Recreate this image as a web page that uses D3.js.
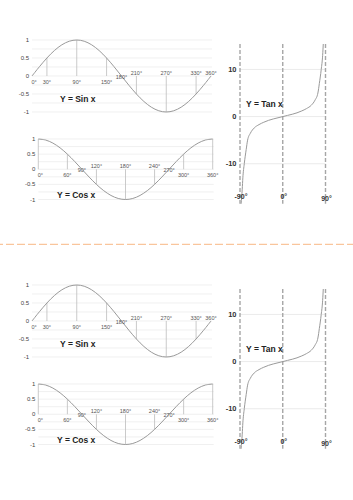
<!DOCTYPE html>
<html>
<head>
<meta charset="utf-8">
<script src="https://cdn.jsdelivr.net/npm/d3@7"></script>
<style>
  body { margin: 0; background: #fff; }
  svg { display: block; font-family: "Liberation Sans Narrow", "Liberation Sans", Arial, sans-serif; }
</style>
</head>
<body>
<svg id="chart"></svg>
<script>
// Constant Values
const width = 353;
const height = 500;

// Data
const angles = [0, 15, 30, 45, 60, 75, 90, 105, 120, 135, 150, 165, 180,
                195, 210, 225, 240, 255, 270, 285, 300, 315, 330, 345, 360];
const sinValues = [0, 0.259, 0.5, 0.707, 0.866, 0.966, 1, 0.966, 0.866, 0.707, 0.5, 0.259, 0,
                   -0.259, -0.5, -0.707, -0.866, -0.966, -1, -0.966, -0.866, -0.707, -0.5, -0.259, 0];
const cosValues = [1, 0.966, 0.866, 0.707, 0.5, 0.259, 0, -0.259, -0.5, -0.707, -0.866, -0.966, -1,
                   -0.966, -0.866, -0.707, -0.5, -0.259, 0, 0.259, 0.5, 0.707, 0.866, 0.966, 1];
const sinLabelAngles = [0, 30, 90, 150, 180, 210, 270, 330, 360];
const cosLabelAngles = [0, 60, 90, 120, 180, 240, 270, 300, 360];
const waveTicks = [1, 0.5, 0, -0.5, -1];
const waveGrid = [1, 0.75, 0.5, 0.25, 0, -0.25, -0.5, -0.75, -1];

// tan curve
const tanAngles = [-87.7, -85.3, -84, -81, -77, -74, -68, -60, -50, -40, -30, -20, -10, 0,
                   10, 20, 30, 40, 50, 60, 68, 74, 77, 81, 84, 85.3];
const tanValues = [-18.5, -15.4, -13, -10, -7, -5, -3.5, -2.4, -1.7, -1.2, -0.8, -0.5, -0.25, 0,
                   0.25, 0.5, 0.8, 1.2, 1.7, 2.4, 3.5, 5, 7, 10, 13, 15.4];
const tanTicks = [10, 0, -10];
const tanAsymptotes = [-90, 0, 90];

const svg = d3.select("#chart")
    .attr("width", width)
    .attr("height", height);

// Draw a sine / cosine panel
function drawWave(g, values, labelAngles, title, xRange, yRange, titlePos) {
    const x = d3.scaleLinear().domain([0, 360]).range(xRange);
    const y = d3.scaleLinear().domain([-1, 1]).range(yRange);
    const valueAt = a => values[angles.indexOf(a)];

    // gridlines
    g.selectAll(".grid")
        .data(waveGrid)
        .enter()
        .append("line")
        .attr("x1", xRange[0])
        .attr("x2", xRange[1] + 1)
        .attr("y1", d => y(d))
        .attr("y2", d => y(d))
        .attr("stroke", "#e9e9e9")
        .attr("stroke-width", 0.7);

    // y tick labels
    g.selectAll(".ytick")
        .data(waveTicks)
        .enter()
        .append("text")
        .attr("x", xRange[0] - 3)
        .attr("y", d => y(d) + 2)
        .attr("text-anchor", "end")
        .attr("font-size", 6)
        .attr("fill", "#444")
        .text(d => d);

    // drop lines from axis to curve
    g.selectAll(".drop")
        .data(labelAngles)
        .enter()
        .append("line")
        .attr("x1", d => x(d))
        .attr("x2", d => x(d))
        .attr("y1", y(0))
        .attr("y2", d => y(valueAt(d)))
        .attr("stroke", "#bdbdbd")
        .attr("stroke-width", 0.8);

    // curve
    const line = d3.line()
        .x((d, i) => x(angles[i]))
        .y(d => y(d))
        .curve(d3.curveCatmullRom);

    g.append("path")
        .datum(values)
        .attr("d", line)
        .attr("fill", "none")
        .attr("stroke", "#9a9a9a")
        .attr("stroke-width", 1);

    // angle labels
    const last = labelAngles.length - 1;
    g.selectAll(".alabel")
        .data(labelAngles)
        .enter()
        .append("text")
        .attr("x", (d, i) => i === 0 ? x(d) - 0.5 : x(d))
        .attr("y", (d, i) => {
            const v = valueAt(d);
            if (v > 0.01 || (Math.abs(v) <= 0.01 && i === 0)) return y(0) + 7.5;
            if (v < -0.01 || i === last) return y(0) - 1.2;
            return y(0) + 2.5;
        })
        .attr("text-anchor", (d, i) => i === 0 ? "start" : "middle")
        .attr("font-size", 5.5)
        .attr("fill", "#555")
        .text(d => d + "°");

    g.append("text")
        .attr("x", titlePos[0])
        .attr("y", titlePos[1])
        .attr("font-size", 8.5)
        .attr("font-weight", "bold")
        .attr("fill", "#222")
        .text(title);
}

// Draw the tangent panel
function drawTan(g) {
    const x = d3.scaleLinear().domain([-90, 90]).range([240, 325.5]);
    const y = d3.scaleLinear().domain([-18.5, 15.4]).range([203.8, 44]);

    g.selectAll(".grid")
        .data(tanTicks)
        .enter()
        .append("line")
        .attr("x1", x(-90))
        .attr("x2", x(90))
        .attr("y1", d => y(d))
        .attr("y2", d => y(d))
        .attr("stroke", "#e6e6e6")
        .attr("stroke-width", 0.8);

    g.selectAll(".ytick")
        .data(tanTicks)
        .enter()
        .append("text")
        .attr("x", 236.5)
        .attr("y", d => y(d) + 2.6)
        .attr("text-anchor", "end")
        .attr("font-size", 7.5)
        .attr("font-weight", "bold")
        .attr("fill", "#333")
        .text(d => d);

    g.selectAll(".asym")
        .data(tanAsymptotes)
        .enter()
        .append("line")
        .attr("x1", d => x(d))
        .attr("x2", d => x(d))
        .attr("y1", y(15.4))
        .attr("y2", y(-18.5))
        .attr("stroke", "#a6a6a6")
        .attr("stroke-width", 1.4)
        .attr("stroke-dasharray", "4,2");

    const line = d3.line()
        .x((d, i) => x(tanAngles[i]))
        .y(d => y(d))
        .curve(d3.curveMonotoneX);

    g.append("path")
        .datum(tanValues)
        .attr("d", line)
        .attr("fill", "none")
        .attr("stroke", "#9a9a9a")
        .attr("stroke-width", 1);

    g.selectAll(".xlabel")
        .data(tanAsymptotes)
        .enter()
        .append("text")
        .attr("x", d => x(d) + 1)
        .attr("y", (d, i) => [199, 198.5, 200.5][i])
        .attr("text-anchor", "middle")
        .attr("font-size", 7)
        .attr("font-weight", "bold")
        .attr("fill", "#333")
        .text(d => d + "°");

    g.append("text")
        .attr("x", 246)
        .attr("y", 107)
        .attr("font-size", 8.5)
        .attr("font-weight", "bold")
        .attr("fill", "#222")
        .text("Y = Tan x");
}

function drawSheet(offsetY) {
    const g = svg.append("g").attr("transform", `translate(0, ${offsetY})`);
    drawWave(g.append("g"), sinValues, sinLabelAngles, "Y = Sin x", [32, 211], [112, 40], [60, 102]);
    drawWave(g.append("g"), cosValues, cosLabelAngles, "Y = Cos x", [38.3, 212.7], [199.5, 139], [57, 198]);
    drawTan(g.append("g"));
}

drawSheet(0);
drawSheet(245);

// cut line between the two copies
svg.append("line")
    .attr("x1", 0)
    .attr("x2", width)
    .attr("y1", 244.3)
    .attr("y2", 244.3)
    .attr("stroke", "#f9c59c")
    .attr("stroke-width", 1.3)
    .attr("stroke-dasharray", "8,3")
    .attr("stroke-dashoffset", 5);
</script>
</body>
</html>
